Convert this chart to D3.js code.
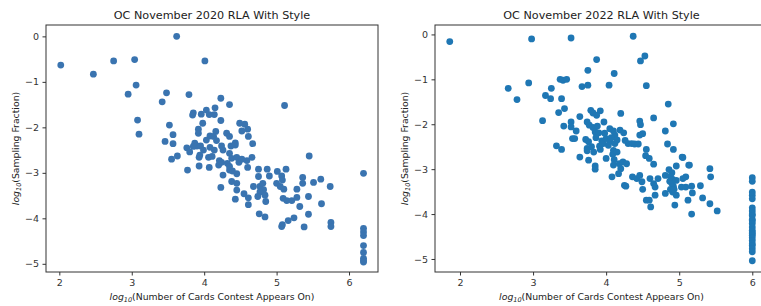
<!DOCTYPE html>
<html>
<head>
<meta charset="utf-8">
<script src="https://cdn.jsdelivr.net/npm/d3@7"></script>
<style>
  body { margin: 0; background: #fff; }
  svg { font-family: "DejaVu Sans", sans-serif; }
</style>
</head>
<body>
<script>
/* DATA */
// [log10(cards), log10(sampling fraction)]
var points2020 = [
  [2.02,-0.63],[2.47,-0.83],[2.75,-0.54],[3.04,-0.51],[3.62,0.00],[4.01,-0.54],[3.06,-1.07],[2.95,-1.27],
  [3.08,-1.84],[3.10,-2.15],[3.48,-1.24],[3.42,-1.44],[3.79,-1.28],[4.23,-1.36],[4.35,-1.50],[5.11,-1.52],
  [3.52,-1.95],[3.57,-2.16],[3.46,-2.31],[3.57,-2.36],[3.63,-2.63],[3.55,-2.70],[3.77,-2.94],
  [3.85,-1.68],[3.84,-1.73],[3.96,-1.71],[4.03,-1.62],[4.15,-1.57],[4.14,-1.72],[4.07,-1.72],[4.23,-1.85],
  [3.98,-1.91],[3.92,-2.04],[3.92,-2.13],[4.16,-2.09],[4.08,-2.19],[4.13,-2.20],[4.03,-2.28],[4.17,-2.29],
  [4.31,-2.13],[4.35,-2.20],[4.49,-1.91],[4.56,-1.93],[4.52,-2.08],[4.60,-2.04],[4.61,-2.20],[4.67,-2.36],
  [4.43,-2.34],[3.76,-2.45],[3.80,-2.54],[3.87,-2.35],[3.90,-2.41],[3.85,-2.42],[3.95,-2.41],[3.99,-2.50],
  [3.94,-2.61],[3.93,-2.66],[4.08,-2.44],[4.14,-2.50],[4.26,-2.50],[4.24,-2.41],[4.37,-2.41],[4.43,-2.39],
  [4.35,-2.57],[4.06,-2.66],[4.11,-2.64],[4.21,-2.73],[4.20,-2.83],[4.24,-2.77],[4.32,-2.79],[4.38,-2.68],
  [4.45,-2.66],[4.48,-2.77],[4.52,-2.70],[4.59,-2.73],[4.60,-2.88],[4.66,-2.66],[3.93,-2.85],[4.07,-2.88],
  [4.26,-3.05],[4.35,-2.94],[4.39,-2.96],[4.45,-3.02],[4.38,-3.19],[4.45,-3.23],[4.23,-3.32],[4.45,-3.38],
  [4.43,-3.58],[4.55,-3.46],[4.61,-3.55],[4.61,-3.70],[4.35,-2.86],
  [4.75,-2.92],[4.87,-2.92],[4.75,-3.08],[4.68,-3.30],[4.77,-3.30],[4.81,-3.23],[4.82,-3.37],[4.77,-3.42],
  [4.74,-3.52],[4.84,-3.49],[4.85,-3.63],[4.90,-3.07],[5.01,-2.97],[5.13,-2.92],[5.07,-3.07],[5.08,-3.16],
  [5.00,-3.23],[5.05,-3.30],[5.10,-3.36],[5.28,-3.36],[5.36,-3.10],[5.36,-3.23],[5.45,-2.63],[5.09,-3.56],
  [5.14,-3.61],[5.21,-3.61],[5.28,-3.54],[5.32,-3.74],[5.44,-3.52],[4.76,-3.90],[4.84,-3.97],[5.08,-4.14],
  [5.07,-4.18],[5.16,-4.05],[5.24,-3.99],[5.38,-4.19],[5.44,-3.91],[5.51,-3.21],[5.61,-3.14],[5.74,-3.30],
  [5.62,-3.68],[5.75,-4.09],[5.75,-4.18],
  [6.20,-3.01],[6.20,-4.22],[6.20,-4.30],[6.20,-4.38],[6.20,-4.60],[6.20,-4.75],[6.20,-4.88],[6.20,-4.93],[6.20,-4.96]
];

var points2022 = [
  [1.86,-0.16],[2.98,-0.10],[3.52,-0.08],[4.37,-0.04],[2.66,-1.20],[2.78,-1.45],[2.94,-1.08],[3.13,-1.92],
  [3.17,-1.36],[3.25,-1.20],[3.24,-1.43],[3.32,-2.48],[3.37,-1.00],[3.41,-1.02],[3.46,-1.00],[3.39,-1.43],
  [3.43,-1.65],[3.35,-1.74],[3.42,-2.04],[3.39,-2.56],[3.52,-1.95],[3.52,-2.06],[3.54,-2.32],[3.57,-2.32],
  [3.64,-2.73],[3.64,-1.83],[3.59,-2.15],[3.67,-1.16],[3.75,-0.80],[3.75,-1.13],[3.87,-0.56],[4.04,-1.13],
  [4.11,-0.87],[4.47,-0.59],[4.53,-0.48],[4.55,-1.14],[4.85,-1.55],[4.65,-1.86],[4.92,-1.99],[4.81,-2.15],
  [4.84,-2.44],[4.92,-2.56],[5.04,-2.73],[5.13,-2.91],[5.42,-2.99],[5.43,-3.17],[5.29,-3.37],[5.32,-3.64],
  [5.42,-3.77],[5.52,-3.93],[5.17,-4.00],[4.94,-3.80],
  [3.79,-1.69],[3.82,-1.75],[3.92,-1.70],[3.87,-1.80],[3.74,-1.95],[3.77,-2.02],[3.82,-2.07],[3.88,-2.04],
  [3.85,-2.17],[3.90,-2.19],[3.97,-1.95],[3.72,-2.34],[3.76,-2.39],[3.74,-2.54],[3.80,-2.50],[3.74,-2.59],
  [3.76,-2.80],[3.85,-2.93],[3.85,-3.00],[3.91,-2.49],[3.94,-2.37],[3.92,-2.56],[3.96,-2.43],[4.00,-2.32],
  [4.00,-2.76],[4.05,-2.10],[4.10,-2.15],[4.12,-2.24],[4.20,-1.76],[4.19,-2.13],[4.24,-2.19],[4.05,-2.39],
  [4.12,-2.43],[4.10,-2.58],[4.09,-2.67],[4.15,-2.62],[4.11,-2.79],[4.10,-2.91],[4.18,-2.88],[4.23,-2.84],
  [4.28,-2.88],[4.20,-2.99],[4.08,-3.17],[4.17,-3.10],[4.25,-3.36],[4.27,-3.38],[4.30,-2.43],[4.35,-2.43],
  [4.39,-2.44],[4.44,-2.44],[4.26,-2.36],[4.46,-2.24],[4.50,-2.21],[4.46,-1.93],[4.47,-2.01],[4.55,-2.56],
  [4.54,-2.70],[4.59,-2.76],[4.65,-2.89],[4.36,-3.17],[4.42,-3.21],[4.46,-3.14],[4.49,-3.28],[4.50,-3.45],
  [4.60,-3.21],[4.65,-3.32],[4.67,-3.40],[4.71,-3.21],[4.55,-3.69],[4.59,-3.69],[4.61,-3.84],[4.67,-3.58],
  [4.81,-3.54],[4.96,-2.93],[4.86,-3.01],[4.90,-3.08],[4.88,-3.16],[4.91,-3.23],[4.87,-3.27],[4.90,-3.32],
  [4.92,-3.38],[4.88,-3.45],[4.91,-3.51],[4.93,-3.45],[4.81,-3.14],[5.05,-2.74],[4.96,-3.25],[5.05,-3.21],
  [5.09,-3.17],[5.03,-3.40],[5.09,-3.40],[5.14,-2.91],[5.17,-3.38],[5.18,-3.53],[5.12,-3.69],[4.96,-3.58],
  [3.86,-2.30],[3.98,-2.20],[4.03,-2.47],[4.15,-2.35],[3.83,-2.62],[4.07,-2.30],
  [6.00,-3.19],[6.00,-3.27],[6.00,-3.51],[6.00,-3.58],[6.00,-3.66],[6.00,-3.86],[6.00,-3.93],[6.00,-4.00],
  [6.00,-4.03],[6.00,-4.12],[6.00,-4.15],[6.00,-4.21],[6.00,-4.29],[6.00,-4.36],[6.00,-4.40],[6.00,-4.44],
  [6.00,-4.47],[6.00,-4.53],[6.00,-4.59],[6.00,-4.66],[6.00,-4.70],[6.00,-4.77],[6.00,-4.84],[6.00,-5.04]
];

var xTicks = [2, 3, 4, 5, 6];
var yTicks = [0, -1, -2, -3, -4, -5];
var titles = ["OC November 2020 RLA With Style", "OC November 2022 RLA With Style"];

/* LAYOUT */
var width = 761, height = 306;

var panels = [
  {title: titles[0], data: points2020, color: "#3a74b0",
   left: 46, right: 378, top: 25, bottom: 272,
   xDomain: [1.816, 6.40], yDomain: [-5.18, 0.25]},
  {title: titles[1], data: points2022, color: "#1f77b4",
   left: 435, right: 768, top: 25, bottom: 272,
   xDomain: [1.658, 6.215], yDomain: [-5.29, 0.21]}
];

var svg = d3.select("body").append("svg")
    .attr("width", width)
    .attr("height", height);

panels.forEach(drawPanel);

function drawPanel(p) {
  var x = d3.scaleLinear().domain(p.xDomain).range([p.left, p.right]);
  var y = d3.scaleLinear().domain(p.yDomain).range([p.bottom, p.top]);
  var g = svg.append("g");

  // points
  g.append("g").selectAll("circle")
    .data(p.data)
    .enter().append("circle")
      .attr("cx", d => x(d[0]))
      .attr("cy", d => y(d[1]))
      .attr("r", 3.4)
      .attr("fill", p.color);

  // axes
  var xAxis = g.append("g")
      .attr("transform", "translate(0," + p.bottom + ")")
      .call(d3.axisBottom(x).tickValues(xTicks).tickFormat(d3.format("d"))
            .tickSizeInner(3.5).tickSizeOuter(0).tickPadding(3.5));
  var yAxis = g.append("g")
      .attr("transform", "translate(" + p.left + ",0)")
      .call(d3.axisLeft(y).tickValues(yTicks).tickFormat(d3.format("d"))
            .tickSizeInner(3.5).tickSizeOuter(0).tickPadding(3.5));
  [xAxis, yAxis].forEach(a => {
    a.select(".domain").remove();
    a.selectAll("line").attr("stroke", "#333");
    a.selectAll("text").attr("fill", "#333").style("font-size", "9.5px")
      .style("font-family", "DejaVu Sans, sans-serif");
  });

  // frame
  g.append("rect")
      .attr("x", p.left).attr("y", p.top)
      .attr("width", p.right - p.left).attr("height", p.bottom - p.top)
      .attr("fill", "none").attr("stroke", "#333").attr("stroke-width", 1);

  // title
  g.append("text")
      .attr("x", (p.left + p.right) / 2)
      .attr("y", 19)
      .attr("text-anchor", "middle")
      .style("font-size", "11.2px")
      .attr("fill", "#222")
      .text(p.title);

  // x label
  var xl = g.append("text")
      .attr("x", (p.left + p.right) / 2)
      .attr("y", 300)
      .attr("text-anchor", "middle")
      .style("font-size", "9.3px")
      .attr("fill", "#222");
  xl.append("tspan").style("font-style", "italic").text("log");
  xl.append("tspan").style("font-style", "italic").style("font-size", "6.5px").attr("dy", 2).text("10");
  xl.append("tspan").attr("dy", -2).text("(Number of Cards Contest Appears On)");

  // y label
  var yl = g.append("text")
      .attr("transform", "translate(" + (p.left - 27) + "," + ((p.top + p.bottom) / 2) + ") rotate(-90)")
      .attr("text-anchor", "middle")
      .style("font-size", "9.3px")
      .attr("fill", "#222");
  yl.append("tspan").style("font-style", "italic").text("log");
  yl.append("tspan").style("font-style", "italic").style("font-size", "6.5px").attr("dy", 2).text("10");
  yl.append("tspan").attr("dy", -2).text("(Sampling Fraction)");
}
</script>
</body>
</html>
